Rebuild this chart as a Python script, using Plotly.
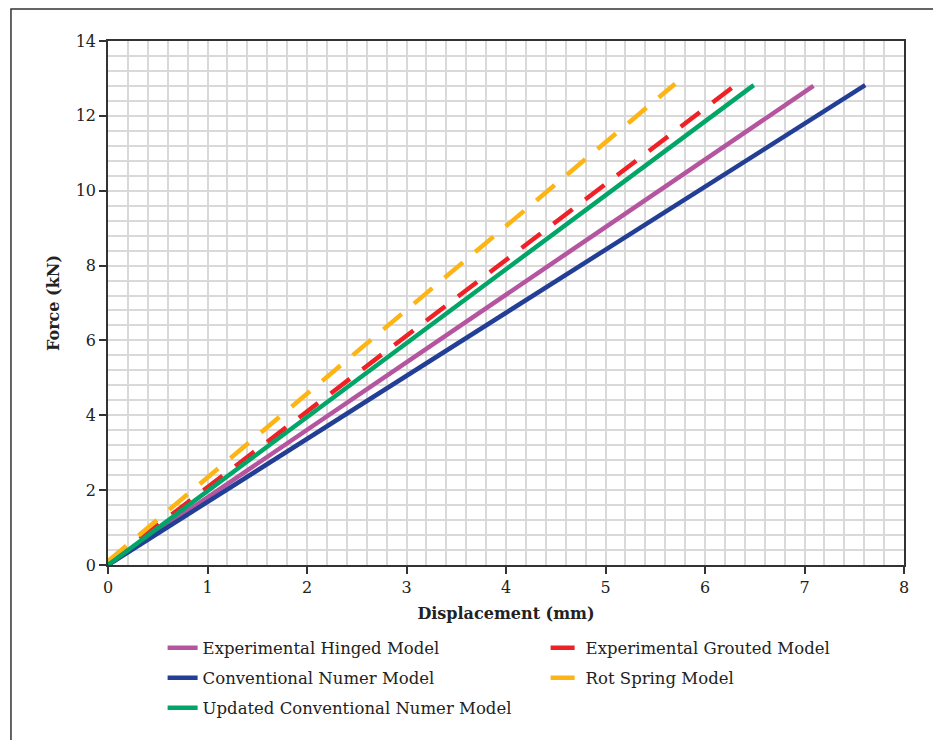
import plotly.graph_objects as go

# Data (displacement mm, force kN)
hinged_x = [0, 7.09]
hinged_y = [0, 12.8]
grouted_x = [0, 6.32]
grouted_y = [0.05, 12.85]
conv_x = [0, 7.61]
conv_y = [0, 12.82]
rot_x = [0, 5.7]
rot_y = [0.1, 12.86]
updated_x = [0, 6.49]
updated_y = [0, 12.82]

names = ["Experimental Hinged Model", "Experimental Grouted Model", "Conventional Numer Model",
         "Rot Spring Model", "Updated Conventional Numer Model"]

W = 4.5
DASH = "24px,16px"
fig = go.Figure()
fig.add_trace(go.Scatter(x=hinged_x, y=hinged_y, mode="lines", name=names[0], legend="legend",
                         line=dict(color="#b5559f", width=W)))
fig.add_trace(go.Scatter(x=grouted_x, y=grouted_y, mode="lines", name=names[1], legend="legend",
                         line=dict(color="#ee2226", width=W, dash=DASH)))
fig.add_trace(go.Scatter(x=conv_x, y=conv_y, mode="lines", name=names[2], legend="legend2",
                         line=dict(color="#233f95", width=W)))
fig.add_trace(go.Scatter(x=rot_x, y=rot_y, mode="lines", name=names[3], legend="legend2",
                         line=dict(color="#fcb515", width=W, dash=DASH)))
fig.add_trace(go.Scatter(x=updated_x, y=updated_y, mode="lines", name=names[4], legend="legend3",
                         line=dict(color="#00a567", width=W)))

font_family = "DejaVu Serif"


def leg(y):
    return dict(orientation="h", x=0.0686, y=y, xanchor="left", yanchor="middle",
                entrywidth=338, font=dict(size=16.5, family=font_family, color="#222"),
                traceorder="normal", bgcolor="rgba(0,0,0,0)")


fig.update_layout(
    width=941, height=740,
    margin=dict(l=100, r=45, t=33, b=183, autoexpand=False),
    paper_bgcolor="white", plot_bgcolor="white",
    font=dict(family=font_family, size=16, color="#222"),
    showlegend=True,
    legend=leg(-0.1584),
    legend2=leg(-0.2156),
    legend3=leg(-0.2729),
    xaxis=dict(range=[0, 8], dtick=1, showgrid=True, gridcolor="#d9d9d9", gridwidth=1.5,
               minor=dict(dtick=0.2, showgrid=True, gridcolor="#d9d9d9", gridwidth=1.5),
               showline=True, linecolor="#333", linewidth=1.5, mirror=True,
               ticks="outside", ticklen=7, tickcolor="#333", tickwidth=1.5,
               zeroline=False,
               title=dict(text="<b>Displacement (mm)</b>", font=dict(size=16), standoff=12),
               tickfont=dict(size=16)),
    yaxis=dict(range=[0, 14], dtick=2, showgrid=True, gridcolor="#d9d9d9", gridwidth=1.5,
               minor=dict(dtick=0.4, showgrid=True, gridcolor="#d9d9d9", gridwidth=1.5),
               showline=True, linecolor="#333", linewidth=1.5, mirror=True,
               ticks="outside", ticklen=7, tickcolor="#333", tickwidth=1.5,
               zeroline=False,
               title=dict(text="<b>Force (kN)</b>", font=dict(size=16), standoff=12),
               tickfont=dict(size=16)),
    shapes=[dict(type="rect", xref="paper", yref="paper",
                 x0=-0.1219, x1=1.039, y0=-0.5, y1=1.061,
                 line=dict(color="#333", width=1.5), fillcolor="rgba(0,0,0,0)", layer="below")],
)

fig.write_html("out.html")
